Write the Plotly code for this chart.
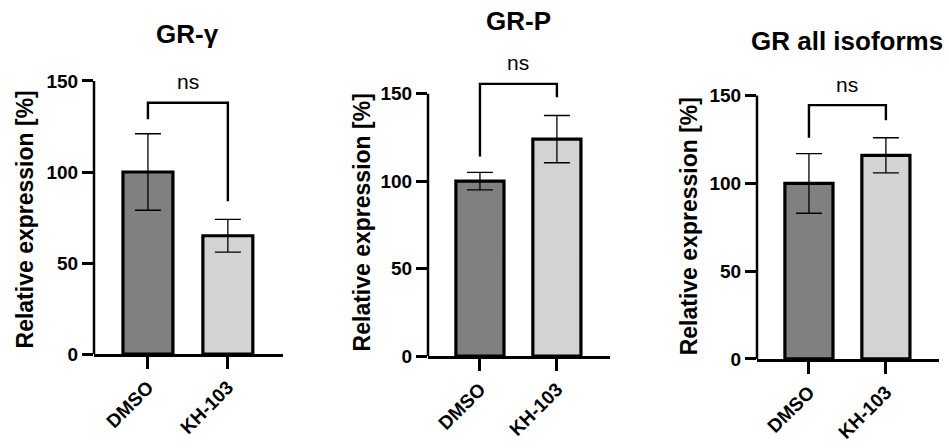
import plotly.graph_objects as go

categories = ["DMSO", "KH-103"]
titles = ["GR-γ", "GR-P", "GR all isoforms"]
means = [[100, 65], [100, 124], [100, 116]]
sds = [[21, 9], [5, 13.5], [17, 10]]
# significance bracket: [left leg end, bar height, right leg end]
brackets = [[129, 138, 84], [114, 155.6, 148], [126, 144.6, 136]]
sig_labels = ["ns", "ns", "ns"]
bar_colors = ["#808080", "#d3d3d3"]
y_ticks = [0, 50, 100, 150]

FONT = "Liberation Sans, Arial, sans-serif"
W, H = 949, 448

x_domains = [[94 / W, 283 / W], [428 / W, 610 / W], [757 / W, 939 / W]]
y_domains = [[1 - 363 / H, 1 - 64.33 / H], [1 - 365 / H, 1 - 78.07 / H], [1 - 368 / H, 1 - 80 / H]]
title_y = [35, 22, 42]
ytitle_x = [25, 362, 689]
ytitle_y = [225, 228, 232]

fig = go.Figure()
layout = dict(
    width=W, height=H, margin=dict(l=0, r=0, t=0, b=0),
    plot_bgcolor="white", paper_bgcolor="white", showlegend=False,
    font=dict(family=FONT, color="black"),
)
annotations = []
shapes = []
for i in range(3):
    sfx = "" if i == 0 else str(i + 1)
    xa, ya = "x" + sfx, "y" + sfx
    fig.add_trace(go.Bar(
        x=categories, y=means[i], xaxis=xa, yaxis=ya, width=0.625,
        marker=dict(color=bar_colors, line=dict(color="black", width=3.2)),
        error_y=dict(type="data", array=sds[i], color="black", thickness=1.3, width=13),
    ))
    fig.add_trace(go.Scatter(
        x=[categories[0], categories[0], categories[1], categories[1]],
        y=[brackets[i][0], brackets[i][1], brackets[i][1], brackets[i][2]],
        xaxis=xa, yaxis=ya, mode="lines", line=dict(color="black", width=2.4),
        hoverinfo="skip",
    ))
    layout["xaxis" + sfx] = dict(
        domain=x_domains[i], anchor=ya, type="category", range=[-0.675, 1.69],
        showline=True, linewidth=2.5, linecolor="black", showgrid=False, zeroline=False,
        ticks="outside", ticklen=12, tickwidth=2.5, tickcolor="black", tickangle=-45,
        tickvals=categories, ticktext=["<b>" + c + "</b>" for c in categories],
        tickfont=dict(family=FONT, size=19, color="black"),
    )
    layout["yaxis" + sfx] = dict(
        domain=y_domains[i], anchor=xa, range=[0, 160],
        showline=False, showgrid=False, zeroline=False,
        tickvals=y_ticks, ticktext=["<b>%d</b>" % v for v in y_ticks],
        ticks="outside", ticklen=11, tickwidth=2.5, tickcolor="black",
        tickfont=dict(family=FONT, size=19, color="black"),
    )
    shapes.append(dict(type="line", xref=xa + " domain", yref=ya, x0=0, x1=0,
                       y0=y_ticks[0], y1=y_ticks[-1], line=dict(color="black", width=2.5)))
    annotations.append(dict(
        text=sig_labels[i], xref=xa, yref=ya, x=0.5, y=brackets[i][1],
        yanchor="middle", yshift=21, showarrow=False,
        font=dict(family=FONT, size=21, color="black"),
    ))
    annotations.append(dict(
        text="<b>" + titles[i] + "</b>", xref=xa, yref="paper", x=0.5, y=1 - title_y[i] / H,
        yanchor="middle", showarrow=False,
        font=dict(family=FONT, size=26, color="black"),
    ))
    annotations.append(dict(
        text="<b>Relative expression [%]</b>", xref="paper", yref="paper",
        x=ytitle_x[i] / W, y=1 - ytitle_y[i] / H, textangle=-90,
        xanchor="center", yanchor="middle", showarrow=False,
        font=dict(family=FONT, size=23, color="black"),
    ))

layout["annotations"] = annotations
layout["shapes"] = shapes
fig.update_layout(**layout)
fig.write_html("out.html")
